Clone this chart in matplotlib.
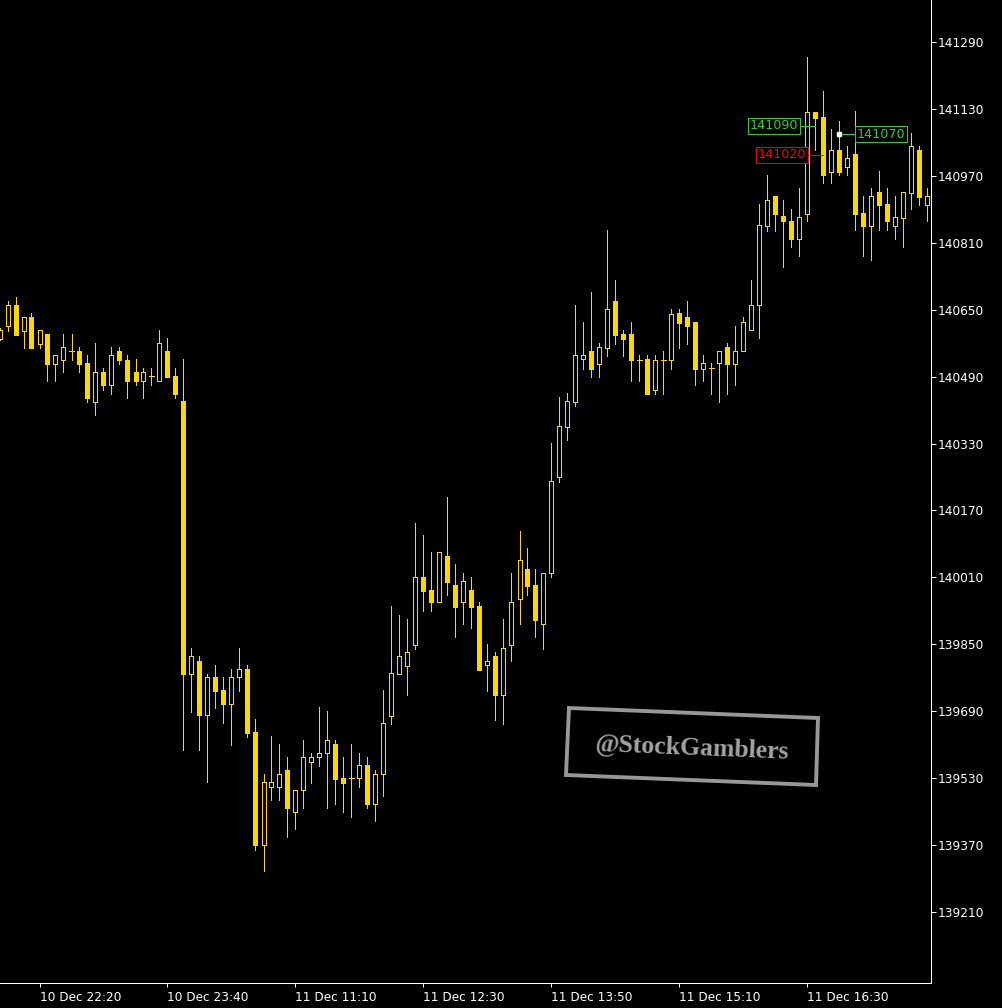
import numpy as np
import matplotlib.pyplot as plt
from matplotlib.patches import Polygon

# 5-minute bars, bar 0 is the first full candle at the left edge
bar_index = list(range(-1, 116))
opens = [140581, 140610, 140661, 140600, 140633, 140569, 140592, 140521, 140531, 140551,
         140551, 140522, 140430, 140500, 140471, 140551, 140531, 140500, 140480, 140491,
         140480, 140551, 140492, 140432, 139780, 139810, 139680, 139771, 139741, 139708,
         139771, 139791, 139640, 139369, 139510, 139510, 139550, 139450, 139501, 139569,
         139580, 139590, 139612, 139530, 139530, 139530, 139561, 139469, 139539, 139679,
         139780, 139799, 139849, 140010, 139980, 139950, 140061, 139991, 139950, 139980,
         139942, 139800, 139822, 139730, 139849, 139959, 140030, 139991, 139899, 140020,
         140251, 140370, 140430, 140532, 140551, 140521, 140559, 140671, 140592, 140592,
         140531, 140532, 140459, 140531, 140531, 140642, 140633, 140621, 140509, 140510,
         140522, 140561, 140521, 140551, 140601, 140661, 140851, 140922, 140873, 140862,
         140820, 140880, 141122, 141111, 140980, 141032, 140991, 141022, 140881, 140851,
         140932, 140903, 140851, 140870, 140930, 141032, 140901]
highs = [140606, 140671, 140680, 140633, 140642, 140602, 140592, 140541, 140592, 140592,
         140561, 140541, 140571, 140511, 140561, 140561, 140541, 140532, 140511, 140511,
         140602, 140582, 140511, 140532, 139841, 139823, 139780, 139801, 139771, 139791,
         139841, 139801, 139671, 139539, 139631, 139612, 139581, 139501, 139621, 139590,
         139700, 139691, 139621, 139581, 139612, 139590, 139581, 139550, 139741, 139942,
         139920, 139911, 140140, 140111, 140071, 140070, 140202, 140042, 140021, 140010,
         139951, 139851, 139831, 139911, 140021, 140121, 140080, 140030, 140020, 140331,
         140441, 140451, 140661, 140621, 140692, 140571, 140841, 140721, 140602, 140621,
         140542, 140542, 140542, 140551, 140652, 140652, 140671, 140621, 140542, 140522,
         140551, 140571, 140611, 140632, 140721, 140903, 140972, 140922, 140912, 140891,
         140941, 141254, 141122, 141173, 141082, 141101, 141041, 141124, 140922, 140941,
         140982, 140941, 140922, 140932, 141073, 141041, 140941]
lows = [140578, 140600, 140590, 140559, 140559, 140559, 140480, 140480, 140500, 140531,
        140500, 140430, 140399, 140459, 140449, 140521, 140440, 140471, 140440, 140471,
        140480, 140490, 140440, 139598, 139689, 139598, 139520, 139698, 139661, 139610,
        139739, 139629, 139359, 139309, 139478, 139478, 139390, 139409, 139459, 139519,
        139560, 139459, 139469, 139450, 139438, 139510, 139459, 139428, 139488, 139660,
        139780, 139730, 139840, 139930, 139930, 139950, 139969, 139868, 139899, 139890,
        139789, 139739, 139670, 139660, 139809, 139899, 139969, 139868, 139840, 140010,
        140239, 140339, 140421, 140509, 140490, 140490, 140540, 140569, 140540, 140480,
        140480, 140449, 140449, 140449, 140509, 140559, 140569, 140471, 140480, 140449,
        140430, 140449, 140471, 140551, 140601, 140582, 140839, 140839, 140752, 140801,
        140779, 140861, 141032, 140952, 140952, 140971, 140971, 140840, 140779, 140770,
        140840, 140840, 140820, 140801, 140891, 140900, 140861]
closes = [140602, 140661, 140590, 140633, 140559, 140602, 140521, 140541, 140561, 140551,
          140521, 140440, 140500, 140471, 140541, 140531, 140480, 140480, 140500, 140491,
          140570, 140490, 140449, 139780, 139822, 139680, 139771, 139739, 139708, 139771,
          139791, 139639, 139369, 139520, 139520, 139539, 139459, 139501, 139580, 139580,
          139590, 139621, 139529, 139519, 139530, 139561, 139469, 139539, 139661, 139781,
          139822, 139831, 140010, 139978, 139950, 140070, 140000, 139940, 140001, 139940,
          139789, 139809, 139730, 139841, 139951, 140051, 139990, 139909, 140020, 140240,
          140371, 140431, 140542, 140542, 140509, 140561, 140651, 140590, 140581, 140531,
          140531, 140449, 140531, 140531, 140641, 140619, 140610, 140509, 140522, 140510,
          140551, 140521, 140551, 140620, 140661, 140852, 140912, 140880, 140861, 140820,
          140872, 141122, 141109, 140971, 141032, 140980, 141013, 140880, 140851, 140922,
          140901, 140861, 140872, 140932, 141041, 140920, 140922]

time_ticks = [4, 20, 36, 52, 68, 84, 100]
time_labels = ['10 Dec 22:20', '10 Dec 23:40', '11 Dec 11:10', '11 Dec 12:30',
               '11 Dec 13:50', '11 Dec 15:10', '11 Dec 16:30']
price_ticks = list(range(139210, 141291, 160))

# price label objects on the chart
label_prices = [141090, 141020, 141070]
label_bars = [101, 102, 104]
label_colors = ['#32cd32', '#ff0000', '#32cd32']
label_sides = [-1, -1, 1]

GOLD = '#ffd700'
PX = 0.72  # one pixel in points

fig = plt.figure(figsize=(10.03, 10.08), dpi=100, facecolor='black')
ax = fig.add_axes([0, 25 / 1008, 931 / 1003, 983 / 1008])
ax.set_facecolor('black')

x = np.array(bar_index)
o = np.array(opens)
h = np.array(highs)
l = np.array(lows)
c = np.array(closes)

# wicks and bodies, drawn crisp like the terminal does
ax.vlines(x, l, h, color=GOLD, lw=PX, zorder=2, antialiased=False)
down = c < o
up = c > o
flat = c == o
ax.bar(x[down], (o - c)[down], bottom=c[down], width=0.5,
       facecolor=GOLD, edgecolor=GOLD, lw=PX, zorder=3, antialiased=False)
ax.bar(x[up], (c - o)[up], bottom=o[up], width=0.5,
       facecolor='black', edgecolor=GOLD, lw=PX, zorder=3, antialiased=False)
ax.hlines(o[flat], x[flat] - 0.3, x[flat] + 0.3, color=GOLD, lw=PX, zorder=3,
          antialiased=False)

# price labels
for p, b, col, side in zip(label_prices, label_bars, label_colors, label_sides):
    ax.plot([b, b + side * 2], [p, p], color=col, lw=PX, zorder=4, antialiased=False)
    ax.annotate(str(p), xy=(b, p), xytext=(side * 17.5, 0), textcoords='offset pixels',
                ha='left' if side > 0 else 'right', va='center', color=col, fontsize=9.2,
                bbox=dict(boxstyle='square,pad=0.12', fc='black', ec=col, lw=PX), zorder=5)
ax.plot([label_bars[2]], [label_prices[2]], marker='s', ms=3.5, mfc='white',
        mec='white', zorder=6)

ax.set_xlim(-7.5 / 8, (931 - 7.5) / 8)
ax.set_ylim(139040.2, 141390.6)

for side in ['left', 'top']:
    ax.spines[side].set_visible(False)
for side in ['right', 'bottom']:
    ax.spines[side].set_color('white')
    ax.spines[side].set_linewidth(PX)

ax.yaxis.tick_right()
ax.set_yticks(price_ticks)
ax.set_yticklabels([str(p) for p in price_ticks])
ax.tick_params(axis='y', colors='white', length=3.6, width=PX, pad=1.5, labelsize=8.7)
ax.set_xticks(time_ticks)
ax.set_xticklabels(time_labels, ha='left')
ax.tick_params(axis='x', colors='white', length=2.9, width=PX, pad=3.2, labelsize=8.7)

# watermark stamp
corners = [(569, 708), (818, 718), (816, 785), (566, 775)]
stamp = Polygon([(cx / 1003, 1 - cy / 1008) for cx, cy in corners], closed=True,
                fill=False, ec='#989898', lw=2.8, transform=fig.transFigure)
fig.add_artist(stamp)
fig.text(692 / 1003, 1 - 748 / 1008, '@StockGamblers', rotation=-2.3,
         rotation_mode='anchor', ha='center', va='center', color='#a4a4a4',
         fontsize=18.5, fontweight='bold', family='Liberation Serif')

fig.savefig('out.png', dpi=100, facecolor='black')
